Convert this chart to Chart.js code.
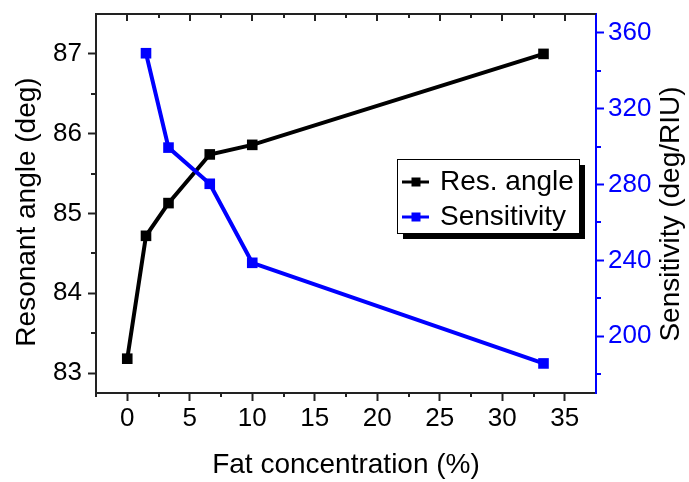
<!DOCTYPE html>
<html><head><meta charset="utf-8">
<script src="https://cdn.jsdelivr.net/npm/chart.js@4/dist/chart.umd.min.js"></script>
<style>html,body{margin:0;padding:0;background:#fff;}#wrap{width:689px;height:482px;}</style>
</head><body><div id="wrap"><canvas id="c" width="689" height="482"></canvas></div>
<script>
const fatConc = [0, 1.5, 3.3, 6.6, 10, 33.3];
const resAngle = [83.18, 84.72, 85.13, 85.74, 85.86, 87.0];
const sensConc = [1.5, 3.3, 6.6, 10, 33.3];
const sensitivity = [349.3, 299.5, 280.4, 238.7, 185.6];
const xTicks = [0, 5, 10, 15, 20, 25, 30, 35];
const xMinor = [-2.5, 2.5, 7.5, 12.5, 17.5, 22.5, 27.5, 32.5, 37.5];
const yTicks = [83, 84, 85, 86, 87];
const yMinor = [83.5, 84.5, 85.5, 86.5];
const y2Ticks = [200, 240, 280, 320, 360];
const y2Minor = [180, 220, 260, 300, 340];
const xTitle = 'Fat concentration (%)';
const yTitle = 'Resonant angle (deg)';
const y2Title = 'Sensitivity (deg/RIU)';
const seriesNames = ['Res. angle', 'Sensitivity'];
const seriesColors = ['#000000', '#0000ff'];

const FONT = '"Liberation Sans", Arial, sans-serif';
const AXIS = '#222222';

const decor = {
  id: 'decor',
  afterDraw(chart) {
    const ctx = chart.ctx, a = chart.chartArea;
    const sx = chart.scales.x, sy = chart.scales.y, sy2 = chart.scales.y2;
    ctx.save();
    ctx.strokeStyle = AXIS; ctx.lineWidth = 2;
    ctx.beginPath(); ctx.moveTo(a.left - 1, a.top); ctx.lineTo(a.right, a.top); ctx.stroke();
    xTicks.forEach(v => { const p = Math.round(sx.getPixelForValue(v)); ctx.beginPath(); ctx.moveTo(p, a.top); ctx.lineTo(p, a.top + 7); ctx.stroke(); });
    xMinor.forEach(v => { const p = Math.round(sx.getPixelForValue(v)); if (p <= a.left + 1 || p >= a.right - 1) return; ctx.beginPath(); ctx.moveTo(p, a.top); ctx.lineTo(p, a.top + 4); ctx.stroke(); });
    xMinor.forEach(v => { const p = Math.round(sx.getPixelForValue(v)); if (p >= a.right - 1) return; ctx.beginPath(); ctx.moveTo(p, a.bottom); ctx.lineTo(p, a.bottom + 4); ctx.stroke(); });
    yMinor.forEach(v => { const p = Math.round(sy.getPixelForValue(v)); ctx.beginPath(); ctx.moveTo(a.left, p); ctx.lineTo(a.left - 5, p); ctx.stroke(); });
    ctx.strokeStyle = '#0000ff';
    y2Minor.forEach(v => { const p = Math.round(sy2.getPixelForValue(v)); ctx.beginPath(); ctx.moveTo(a.right, p); ctx.lineTo(a.right + 5, p); ctx.stroke(); });

    ctx.fillStyle = '#000';
    ctx.font = '28px ' + FONT;
    ctx.textAlign = 'center'; ctx.textBaseline = 'middle';
    ctx.save(); ctx.translate(27.5, 212); ctx.rotate(-Math.PI / 2); ctx.fillText(yTitle, 0, 0); ctx.restore();
    ctx.save(); ctx.translate(671, 214); ctx.rotate(-Math.PI / 2); ctx.fillText(y2Title, 0, 0); ctx.restore();

    const L = 397, T = 159, W = 182, H = 74;
    ctx.fillStyle = '#000'; ctx.fillRect(L + 6, T + 6, W, H);
    ctx.fillStyle = '#fff'; ctx.fillRect(L, T, W, H);
    ctx.strokeStyle = '#000'; ctx.lineWidth = 1; ctx.strokeRect(L + 0.5, T + 0.5, W, H);
    const rows = [182, 217];
    seriesNames.forEach((n, i) => {
      const cy = rows[i];
      ctx.strokeStyle = seriesColors[i]; ctx.lineWidth = 3;
      ctx.beginPath(); ctx.moveTo(402, cy); ctx.lineTo(429, cy); ctx.stroke();
      ctx.fillStyle = seriesColors[i]; ctx.fillRect(411.5, cy - 4.5, 9, 9);
      ctx.fillStyle = '#000'; ctx.textAlign = 'left'; ctx.textBaseline = 'middle';
      ctx.font = '28px ' + FONT; ctx.fillText(n, 440, cy);
    });
    ctx.restore();
  }
};

const ds = (label, xs, ys, color, axis, order) => ({
  label, yAxisID: axis, order,
  data: xs.map((x, i) => ({ x, y: ys[i] })),
  borderColor: color, backgroundColor: color,
  borderWidth: 4, pointStyle: 'rect', pointRadius: 7.5, pointHoverRadius: 7.5,
  pointBorderWidth: 0, tension: 0, fill: false
});

const noPad = s => { s.paddingTop = 0; s.paddingBottom = 0; s.paddingLeft = 0; s.paddingRight = 0; };

new Chart(document.getElementById('c'), {
  type: 'line',
  data: { datasets: [
    ds(seriesNames[0], fatConc, resAngle, seriesColors[0], 'y', 1),
    ds(seriesNames[1], sensConc, sensitivity, seriesColors[1], 'y2', 0)
  ] },
  options: {
    responsive: false, animation: false, devicePixelRatio: 1,
    layout: { padding: { top: 14, left: 0, right: 0, bottom: 0 } },
    plugins: { legend: { display: false }, tooltip: { enabled: false } },
    scales: {
      x: {
        type: 'linear', position: 'bottom', min: -2.5, max: 37.5,
        afterBuildTicks: s => { s.ticks = xTicks.map(v => ({ value: v })); },
        afterFit: s => { s.height = 89; noPad(s); },
        ticks: { font: { size: 26, family: FONT }, color: '#000', padding: 2, maxRotation: 0, autoSkip: false, callback: v => String(v) },
        grid: { drawOnChartArea: false, drawTicks: true, tickLength: 8, tickWidth: 2, color: AXIS },
        border: { color: AXIS, width: 2 },
        title: { display: true, text: xTitle, font: { size: 28, family: FONT }, color: '#000', padding: 0 }
      },
      y: {
        type: 'linear', position: 'left', min: 82.75, max: 87.5,
        afterBuildTicks: s => { s.ticks = yTicks.map(v => ({ value: v })); },
        afterFit: s => { s.width = 96; noPad(s); },
        ticks: { font: { size: 26, family: FONT }, color: '#000', padding: 6, callback: v => String(v) },
        grid: { drawOnChartArea: false, drawTicks: true, tickLength: 8, tickWidth: 2, color: AXIS },
        border: { color: AXIS, width: 2 }
      },
      y2: {
        type: 'linear', position: 'right', min: 170, max: 370,
        afterBuildTicks: s => { s.ticks = y2Ticks.map(v => ({ value: v })); },
        afterFit: s => { s.width = 93; noPad(s); },
        ticks: { font: { size: 26, family: FONT }, color: '#0000ff', padding: 4, callback: v => String(v) },
        grid: { drawOnChartArea: false, drawTicks: true, tickLength: 8, tickWidth: 2, color: '#0000ff' },
        border: { color: '#0000ff', width: 2 }
      }
    }
  },
  plugins: [decor]
});
</script></body></html>
